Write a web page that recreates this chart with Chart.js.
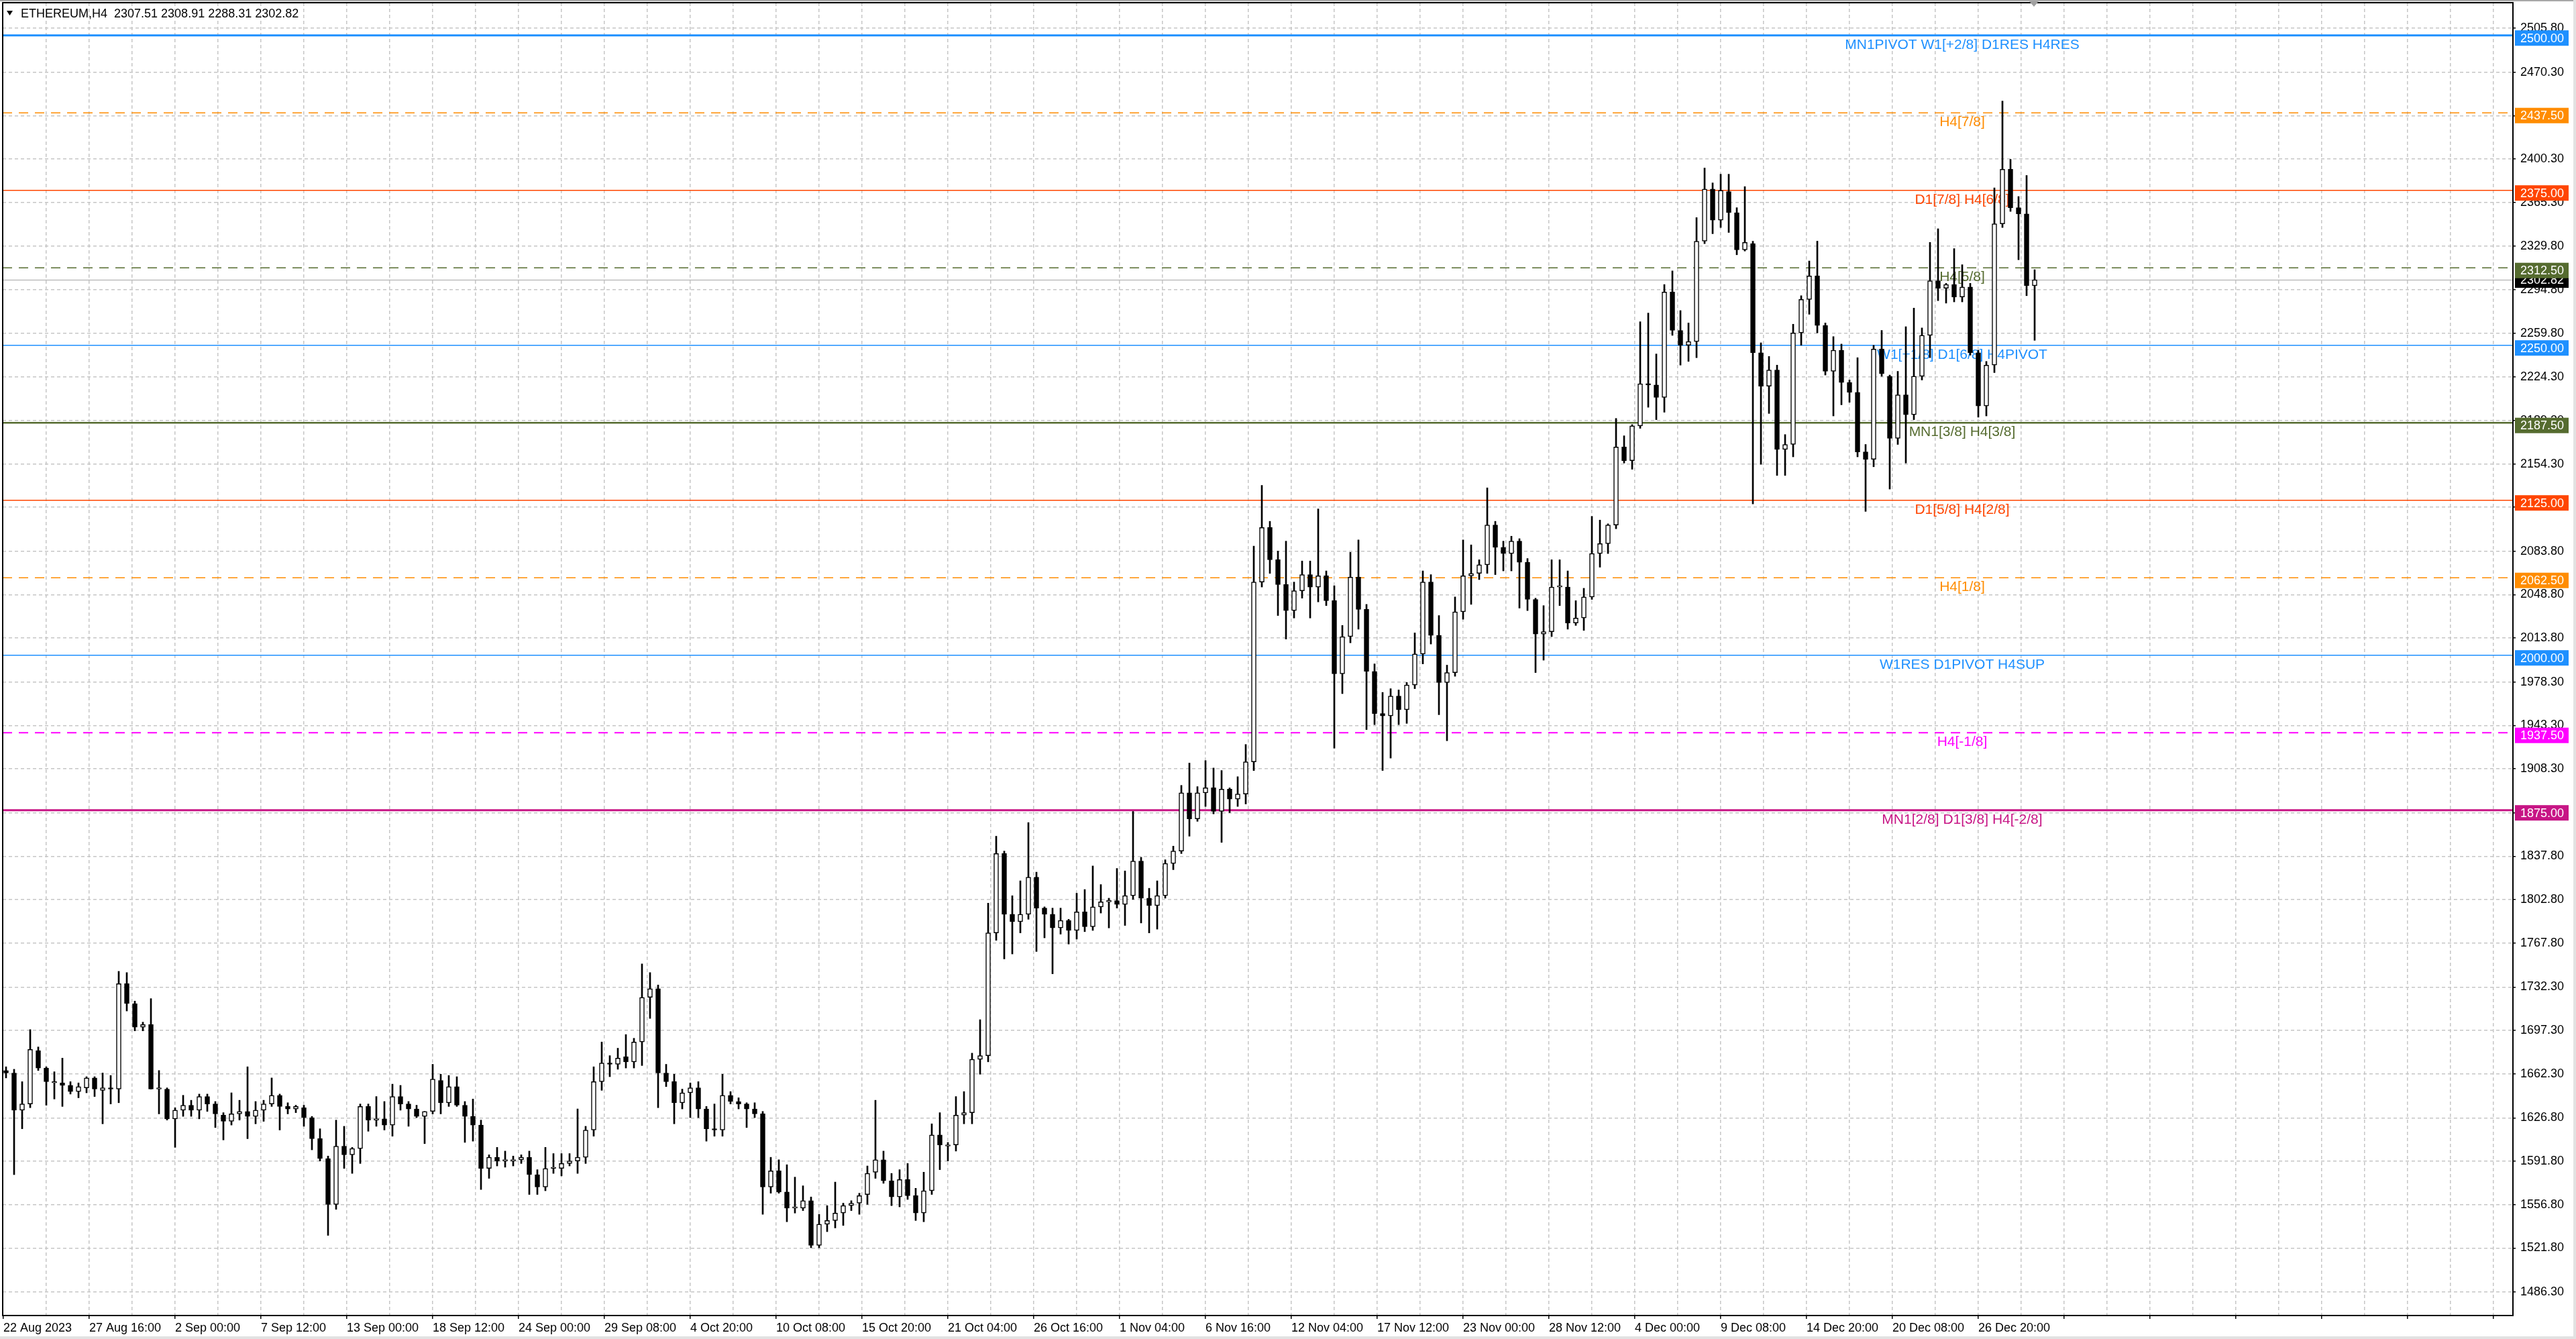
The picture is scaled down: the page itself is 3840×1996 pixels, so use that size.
<!DOCTYPE html>
<html>
<head>
<meta charset="utf-8">
<style>
html, body { margin: 0; padding: 0; background: #fff; overflow: hidden; }
#wrap { width: 3840px; height: 1996px; }
</style>
<script src="https://cdn.jsdelivr.net/npm/chart.js@4.4.0/dist/chart.umd.min.js"></script>
</head>
<body>
<div id="wrap"><canvas id="ethChart" width="3840" height="1996"></canvas></div>
<script>

const symbolTitle = 'ETHEREUM,H4';
const lastBar = [2307.51, 2308.91, 2288.31, 2302.82];

// 12h candles
const openPrices = [
    1665,1663,1633,1638,1681,1667,1655,1655,1653,1648,
    1651,1659,1649,1651,1650,1735,1719,1700,1702,1650,
    1650,1626,1633,1637,1633,1644,1638,1629,1624,1630,
    1632,1628,1633,1638,1645,1636,1634,1635,1627,1610,
    1594,1557,1604,1597,1602,1636,1625,1626,1621,1644,
    1638,1634,1628,1632,1657,1639,1652,1637,1628,1621,
    1586,1595,1592,1592,1593,1595,1581,1571,1586,1586,
    1590,1592,1595,1617,1656,1671,1670,1676,1672,1688,
    1724,1731,1663,1656,1639,1647,1651,1634,1618,1617,
    1645,1640,1638,1634,1630,1571,1584,1567,1554,1554,
    1560,1524,1541,1544,1550,1556,1558,1565,1583,1593,
    1576,1563,1577,1564,1550,1568,1613,1604,1605,1629,
    1631,1674,1677,1776,1840,1791,1785,1791,1821,1796,
    1791,1780,1786,1778,1793,1781,1797,1801,1802,1799,
    1806,1834,1804,1798,1806,1832,1842,1889,1868,1889,
    1893,1874,1892,1884,1888,1914,2059,2103,2077,2057,
    2036,2052,2065,2055,2064,2044,1985,2015,2063,2037,
    1987,1953,1951,1967,1956,1976,2001,2059,2016,1978,
    1986,2035,2064,2066,2073,2105,2087,2082,2092,2075,
    2045,2017,2019,2055,2055,2026,2030,2047,2082,2090,
    2105,2168,2157,2185,2219,2218,2208,2293,2262,2250,
    2253,2334,2376,2351,2374,2357,2327,2332,2244,2217,
    2230,2166,2170,2260,2287,2306,2266,2229,2246,2220,
    2212,2164,2158,2247,2225,2175,2210,2194,2225,2258,
    2302,2296,2299,2289,2297,2244,2201,2234,2348,2392,
    2361,2356,2298
];
const highPrices = [
    1668,1666,1656,1698,1684,1668,1664,1675,1656,1655,
    1660,1660,1663,1661,1745,1744,1721,1704,1723,1665,
    1651,1635,1645,1641,1646,1646,1640,1631,1647,1641,
    1668,1640,1641,1659,1646,1639,1637,1637,1628,1618,
    1596,1625,1620,1603,1638,1638,1644,1640,1654,1653,
    1640,1637,1632,1670,1662,1661,1660,1640,1642,1625,
    1597,1603,1600,1596,1597,1600,1585,1603,1598,1598,
    1598,1634,1620,1668,1688,1677,1683,1694,1691,1751,
    1744,1734,1670,1662,1650,1655,1656,1636,1638,1662,
    1648,1643,1639,1639,1632,1595,1593,1589,1579,1572,
    1563,1549,1556,1575,1558,1560,1566,1588,1641,1600,
    1582,1585,1590,1570,1583,1622,1631,1607,1644,1648,
    1679,1706,1800,1854,1842,1806,1818,1865,1825,1797,
    1796,1796,1787,1808,1811,1830,1815,1804,1828,1826,
    1874,1837,1812,1818,1835,1846,1895,1913,1894,1915,
    1909,1907,1893,1902,1928,2088,2137,2108,2084,2092,
    2059,2076,2076,2118,2068,2056,2024,2083,2093,2041,
    1993,1970,1973,1972,1978,2018,2068,2065,2032,1992,
    2047,2093,2089,2077,2135,2108,2092,2096,2094,2078,
    2046,2040,2077,2077,2068,2044,2054,2112,2109,2106,
    2191,2177,2186,2269,2276,2243,2299,2310,2278,2268,
    2353,2393,2381,2388,2388,2361,2378,2334,2252,2241,
    2234,2178,2267,2290,2318,2334,2268,2257,2251,2222,
    2240,2170,2250,2262,2226,2229,2265,2280,2264,2333,
    2344,2300,2328,2315,2300,2246,2237,2377,2447,2400,
    2370,2387,2311
];
const lowPrices = [
    1659,1581,1618,1635,1665,1637,1642,1636,1646,1643,
    1647,1644,1622,1638,1639,1713,1697,1697,1650,1630,
    1625,1603,1628,1628,1626,1632,1619,1609,1621,1625,
    1610,1622,1624,1636,1617,1630,1631,1620,1601,1592,
    1532,1553,1586,1582,1590,1616,1620,1617,1612,1633,
    1620,1627,1606,1630,1630,1636,1636,1607,1608,1569,
    1578,1588,1587,1588,1590,1565,1565,1568,1582,1580,
    1588,1582,1590,1612,1649,1660,1666,1667,1667,1669,
    1707,1635,1652,1622,1634,1627,1627,1608,1612,1612,
    1638,1634,1619,1627,1549,1566,1566,1543,1550,1552,
    1522,1522,1535,1538,1540,1552,1549,1557,1578,1574,
    1556,1555,1561,1544,1543,1565,1585,1592,1600,1622,
    1622,1662,1672,1770,1755,1759,1776,1787,1761,1772,
    1743,1775,1767,1771,1777,1778,1792,1780,1796,1782,
    1803,1784,1776,1779,1804,1827,1840,1854,1866,1878,
    1872,1849,1873,1878,1880,1907,2055,2066,2032,2013,
    2030,2046,2030,2043,2040,1925,1969,2010,2021,1940,
    1944,1907,1917,1944,1945,1973,1993,2009,1952,1931,
    1983,2029,2041,2061,2066,2065,2068,2068,2038,2036,
    1986,1996,2015,2040,2021,2024,2020,2045,2071,2082,
    2102,2155,2150,2183,2200,2190,2196,2258,2234,2237,
    2240,2332,2340,2345,2341,2323,2326,2122,2154,2195,
    2145,2145,2160,2250,2275,2260,2226,2193,2202,2204,
    2160,2116,2152,2225,2134,2170,2155,2190,2222,2240,
    2286,2284,2285,2285,2242,2192,2193,2228,2345,2358,
    2319,2290,2254
];
const closePrices = [
    1663,1633,1638,1682,1667,1656,1655,1653,1648,1652,
    1659,1650,1651,1650,1735,1719,1700,1702,1650,1650,
    1626,1633,1637,1633,1644,1638,1630,1624,1630,1632,
    1628,1633,1638,1645,1636,1634,1636,1627,1610,1594,
    1557,1604,1597,1602,1636,1625,1626,1621,1644,1638,
    1634,1628,1632,1658,1639,1652,1637,1628,1621,1586,
    1595,1592,1592,1593,1595,1581,1571,1586,1586,1590,
    1592,1595,1617,1656,1671,1670,1675,1672,1688,1724,
    1731,1663,1656,1639,1647,1651,1634,1618,1617,1645,
    1640,1638,1634,1630,1571,1584,1567,1554,1554,1560,
    1524,1541,1544,1550,1556,1558,1564,1582,1593,1576,
    1563,1577,1564,1550,1568,1613,1605,1605,1629,1631,
    1674,1677,1776,1840,1791,1785,1791,1821,1796,1791,
    1780,1786,1778,1793,1781,1797,1801,1802,1799,1806,
    1834,1804,1798,1806,1832,1842,1889,1868,1889,1893,
    1874,1892,1884,1888,1914,2059,2103,2077,2057,2036,
    2052,2065,2055,2064,2044,1985,2015,2063,2037,1987,
    1953,1951,1967,1956,1976,2001,2059,2016,1978,1986,
    2035,2064,2066,2073,2105,2087,2082,2092,2075,2045,
    2017,2019,2055,2055,2026,2030,2047,2082,2090,2105,
    2168,2157,2185,2219,2218,2208,2293,2262,2250,2253,
    2334,2376,2351,2375,2357,2327,2333,2244,2217,2230,
    2166,2170,2260,2287,2306,2266,2229,2246,2220,2212,
    2164,2158,2247,2227,2175,2210,2194,2225,2258,2302,
    2296,2299,2289,2297,2244,2201,2234,2348,2392,2361,
    2356,2298,2302.82
];

const xLabels = [
    '22 Aug 2023', '27 Aug 16:00', '2 Sep 00:00', '7 Sep 12:00', '13 Sep 00:00', '18 Sep 12:00',
    '24 Sep 00:00', '29 Sep 08:00', '4 Oct 20:00', '10 Oct 08:00', '15 Oct 20:00', '21 Oct 04:00',
    '26 Oct 16:00', '1 Nov 04:00', '6 Nov 16:00', '12 Nov 04:00', '17 Nov 12:00', '23 Nov 00:00',
    '28 Nov 12:00', '4 Dec 00:00', '9 Dec 08:00', '14 Dec 20:00', '20 Dec 08:00', '26 Dec 20:00'
];

const yTicks = [
    2505.8, 2470.3, 2435.3, 2400.3, 2365.3, 2329.8, 2294.8, 2259.8, 2224.3, 2189.3,
    2154.3, 2119.3, 2083.8, 2048.8, 2013.8, 1978.3, 1943.3, 1908.3, 1872.8, 1837.8,
    1802.8, 1767.8, 1732.3, 1697.3, 1662.3, 1626.8, 1591.8, 1556.8, 1521.8, 1486.3
];

const levelValues = [2500, 2437.5, 2375, 2312.5, 2250, 2187.5, 2125, 2062.5, 2000, 1937.5, 1875];
const levelNames = [
    'MN1PIVOT W1[+2/8] D1RES H4RES', 'H4[7/8]', 'D1[7/8] H4[6/8]', 'H4[5/8]',
    'W1[+1/8] D1[6/8] H4PIVOT', 'MN1[3/8] H4[3/8]', 'D1[5/8] H4[2/8]', 'H4[1/8]',
    'W1RES D1PIVOT H4SUP', 'H4[-1/8]', 'MN1[2/8] D1[3/8] H4[-2/8]'
];

// styles for the level lines
const levelColors = ['#1E90FF', '#FF8C00', '#FF4500', '#556B2F', '#1E90FF', '#556B2F', '#FF4500', '#FF8C00', '#1E90FF', '#FF00FF', '#C71585'];
const levelDashed = [false, true, false, true, false, false, false, true, false, true, false];
const levelWidths = [3, 1.5, 1.5, 1.5, 1.5, 2.5, 1.5, 1.5, 1.5, 2, 3];

const FONT = '"Liberation Sans", "DejaVu Sans", sans-serif';
const LABEL_BAR = 730;
const GRID = '#c6c6c6';

function candleBar(k) {
    return 3 * k + 1;
}

const overlayPlugin = {
    id: 'mt4Overlay',
    beforeDatasetsDraw(chart) {
        const ctx = chart.ctx;
        const area = chart.chartArea;
        const xs = chart.scales.x;
        const ys = chart.scales.y;
        ctx.save();
        ctx.beginPath();
        ctx.rect(area.left, area.top, area.right - area.left, area.bottom - area.top);
        ctx.clip();

        let py = Math.round(ys.getPixelForValue(lastBar[3])) + 0.5;
        ctx.strokeStyle = '#bdbdbd';
        ctx.lineWidth = 1.5;
        ctx.setLineDash([]);
        ctx.beginPath();
        ctx.moveTo(area.left, py);
        ctx.lineTo(area.right, py);
        ctx.stroke();

        const labelX = xs.getPixelForValue(LABEL_BAR);
        levelValues.forEach((v, i) => {
            const y = ys.getPixelForValue(v);
            ctx.strokeStyle = levelColors[i];
            ctx.lineWidth = levelWidths[i];
            ctx.setLineDash(levelDashed[i] ? [14, 10] : []);
            ctx.beginPath();
            ctx.moveTo(area.left, y);
            ctx.lineTo(area.right, y);
            ctx.stroke();

            ctx.setLineDash([]);
            ctx.fillStyle = levelColors[i];
            ctx.font = '21px ' + FONT;
            ctx.textAlign = 'center';
            ctx.textBaseline = 'alphabetic';
            ctx.fillText(levelNames[i], labelX, y + 20);
        });
        ctx.restore();
    },
    afterDraw(chart) {
        const ctx = chart.ctx;
        const area = chart.chartArea;
        const ys = chart.scales.y;
        ctx.save();

        ctx.strokeStyle = '#000';
        ctx.lineWidth = 2;
        ctx.setLineDash([]);
        ctx.strokeRect(area.left, area.top, area.right - area.left, area.bottom - area.top);

        // price tags on the right axis
        const boxLeft = area.right + 3;
        ctx.font = '18px ' + FONT;
        ctx.textAlign = 'left';
        ctx.textBaseline = 'middle';
        let cy = ys.getPixelForValue(lastBar[3]);
        ctx.fillStyle = '#000';
        ctx.fillRect(boxLeft, cy - 11, 80, 23);
        ctx.fillStyle = '#fff';
        ctx.fillText(lastBar[3].toFixed(2), boxLeft + 8, cy + 1);

        levelValues.forEach((v, i) => {
            const y = ys.getPixelForValue(v) + 4;
            ctx.fillStyle = levelColors[i];
            ctx.fillRect(boxLeft, y - 11.5, 80, 23);
            ctx.fillStyle = '#fff';
            ctx.fillText(v.toFixed(2), boxLeft + 8, y + 1);
        });

        // symbol line, top left
        ctx.fillStyle = '#000';
        ctx.beginPath();
        ctx.moveTo(10, 16);
        ctx.lineTo(19, 16);
        ctx.lineTo(14.5, 23);
        ctx.closePath();
        ctx.fill();
        ctx.font = '18px ' + FONT;
        ctx.textBaseline = 'alphabetic';
        ctx.fillText(symbolTitle + '  ' + lastBar.map(v => v.toFixed(2)).join(' '), 31, 26);

        // chart shift marker
        ctx.fillStyle = '#a0a0a0';
        ctx.beginPath();
        ctx.moveTo(3025, 2);
        ctx.lineTo(3039, 2);
        ctx.lineTo(3032, 10);
        ctx.closePath();
        ctx.fill();

        ctx.fillStyle = '#a8a8a8';
        ctx.fillRect(0, 0, 3840, 2);
        ctx.fillStyle = '#e2e2e2';
        ctx.fillRect(3836, 0, 4, 1996);
        ctx.fillRect(0, 1992, 3840, 4);
        ctx.restore();
    }
};

function drawChart() {
    const wickData = closePrices.map((c, k) => ({ x: candleBar(k), y: [lowPrices[k], highPrices[k]] }));
    const bodyData = closePrices.map((c, k) => ({ x: candleBar(k), y: [openPrices[k], c] }));
    const bodyColors = closePrices.map((c, k) => c >= openPrices[k] ? '#ffffff' : '#000000');

    const ctx = document.getElementById('ethChart').getContext('2d');
    new Chart(ctx, {
        type: 'bar',
        data: {
            datasets: [{
                data: wickData,
                backgroundColor: '#000',
                borderWidth: 0,
                barThickness: 2,
                grouped: false,
                order: 2
            }, {
                data: bodyData,
                backgroundColor: bodyColors,
                borderColor: '#000',
                borderWidth: 1.5,
                borderSkipped: false,
                barThickness: 7,
                minBarLength: 2,
                grouped: false,
                order: 1
            }]
        },
        options: {
            responsive: false,
            devicePixelRatio: 1,
            animation: false,
            layout: { padding: { left: 4, top: 4, right: 0, bottom: 0 } },
            plugins: { legend: { display: false }, tooltip: { enabled: false } },
            scales: {
                x: {
                    type: 'linear',
                    offset: false,
                    min: -0.25,
                    max: 935.25,
                    afterBuildTicks(scale) {
                        const ticks = [];
                        for (let m = 0; m <= 58; m++) {
                            ticks.push({ value: 16 * m });
                        }
                        scale.ticks = ticks;
                    },
                    afterFit(scale) {
                        scale.height = 35;
                        scale.paddingLeft = 0;
                        scale.paddingRight = 0;
                    },
                    ticks: {
                        autoSkip: false,
                        maxRotation: 0,
                        minRotation: 0,
                        align: 'start',
                        padding: 3,
                        color: '#000',
                        font: { family: FONT, size: 18 },
                        callback(value) {
                            const j = value / 32;
                            return Number.isInteger(j) && j < xLabels.length ? xLabels[j] : '';
                        }
                    },
                    grid: {
                        offset: false,
                        color: c => (c.tick && c.tick.value === 0) ? 'rgba(0,0,0,0)' : GRID,
                        lineWidth: 1.5,
                        tickLength: 5,
                        tickWidth: 1.5,
                        tickBorderDash: [],
                        tickColor: c => (c.tick && c.tick.value % 32 === 0) ? '#000' : 'rgba(0,0,0,0)'
                    },
                    border: { display: false, dash: [5, 4] }
                },
                y: {
                    type: 'linear',
                    position: 'right',
                    min: 1467.36,
                    max: 2526.36,
                    afterBuildTicks(scale) {
                        scale.ticks = yTicks.map(v => ({ value: v }));
                    },
                    afterFit(scale) {
                        scale.width = 94;
                        scale.paddingTop = 0;
                        scale.paddingBottom = 0;
                    },
                    ticks: {
                        padding: 7,
                        color: '#000',
                        crossAlign: 'near',
                        font: { family: FONT, size: 18 },
                        callback: v => v.toFixed(2)
                    },
                    grid: {
                        color: GRID,
                        lineWidth: 1.5,
                        tickLength: 4,
                        tickWidth: 1.5,
                        tickBorderDash: [],
                        tickColor: '#000'
                    },
                    border: { display: false, dash: [5, 4] }
                }
            }
        },
        plugins: [overlayPlugin]
    });
}

drawChart();
</script>
</body>
</html>
